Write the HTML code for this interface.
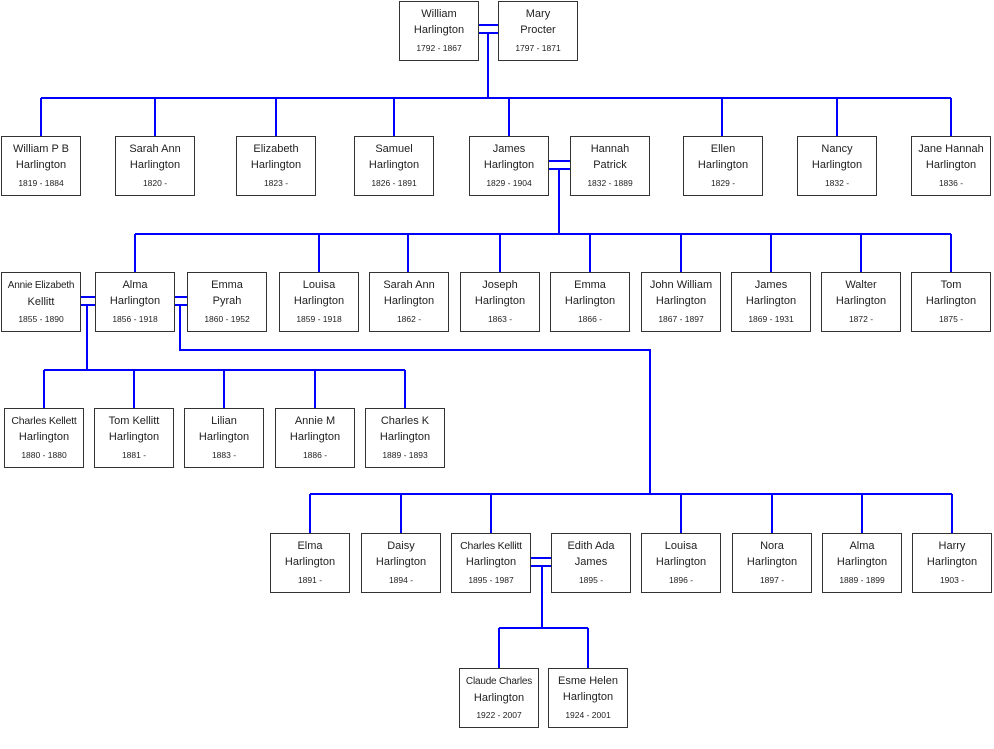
<!DOCTYPE html>
<html><head><meta charset="utf-8"><style>
body{margin:0;width:994px;height:749px;background:#fff;position:relative;overflow:hidden;font-family:"Liberation Sans",sans-serif;color:#222}
.b{position:absolute;width:78px;height:58px;border:1px solid #333;background:#fff;text-align:center}
.n{position:absolute;left:0;right:0;top:4px;font-size:11px;line-height:16px;white-space:nowrap}
.d{position:absolute;left:0;right:0;top:40px;font-size:8.5px;line-height:12px}
.s{font-size:10px;letter-spacing:-0.2px}
svg{position:absolute;left:0;top:0}
</style></head><body>
<svg width="994" height="749"><g stroke="#0000ff" stroke-width="2" fill="none">
<path d="M478 25H498M478 33H498M488 33V98M41 98H951M41 98V136M155 98V136M276 98V136M394 98V136M509 98V136M722 98V136M837 98V136M951 98V136"/>
<path d="M548 161H570M548 169H570M559 169V234M135 234H951M135 234V272M319 234V272M408 234V272M500 234V272M590 234V272M681 234V272M771 234V272M861 234V272M951 234V272"/>
<path d="M80 297H95M80 305H95M87 305V370M44 370H405M44 370V408M134 370V408M224 370V408M315 370V408M405 370V408"/>
<path d="M174 297H187M174 305H187M180 305V350H650V494M310 494H952M310 494V533M401 494V533M491 494V533M681 494V533M772 494V533M862 494V533M952 494V533"/>
<path d="M530 558H551M530 566H551M542 566V628M499 628H588M499 628V668M588 628V668"/>
</g></svg>
<div class="b" style="left:399px;top:1px"><div class="n">William<br>Harlington</div><div class="d">1792 - 1867</div></div>
<div class="b" style="left:498px;top:1px"><div class="n">Mary<br>Procter</div><div class="d">1797 - 1871</div></div>

<div class="b" style="left:1px;top:136px"><div class="n">William P B<br>Harlington</div><div class="d">1819 - 1884</div></div>
<div class="b" style="left:115px;top:136px"><div class="n">Sarah Ann<br>Harlington</div><div class="d">1820 -</div></div>
<div class="b" style="left:236px;top:136px"><div class="n">Elizabeth<br>Harlington</div><div class="d">1823 -</div></div>
<div class="b" style="left:354px;top:136px"><div class="n">Samuel<br>Harlington</div><div class="d">1826 - 1891</div></div>
<div class="b" style="left:469px;top:136px"><div class="n">James<br>Harlington</div><div class="d">1829 - 1904</div></div>
<div class="b" style="left:570px;top:136px"><div class="n">Hannah<br>Patrick</div><div class="d">1832 - 1889</div></div>
<div class="b" style="left:683px;top:136px"><div class="n">Ellen<br>Harlington</div><div class="d">1829 -</div></div>
<div class="b" style="left:797px;top:136px"><div class="n">Nancy<br>Harlington</div><div class="d">1832 -</div></div>
<div class="b" style="left:911px;top:136px"><div class="n">Jane Hannah<br>Harlington</div><div class="d">1836 -</div></div>

<div class="b" style="left:1px;top:272px"><div class="n"><span class="s">Annie Elizabeth</span><br>Kellitt</div><div class="d">1855 - 1890</div></div>
<div class="b" style="left:95px;top:272px"><div class="n">Alma<br>Harlington</div><div class="d">1856 - 1918</div></div>
<div class="b" style="left:187px;top:272px"><div class="n">Emma<br>Pyrah</div><div class="d">1860 - 1952</div></div>
<div class="b" style="left:279px;top:272px"><div class="n">Louisa<br>Harlington</div><div class="d">1859 - 1918</div></div>
<div class="b" style="left:369px;top:272px"><div class="n">Sarah Ann<br>Harlington</div><div class="d">1862 -</div></div>
<div class="b" style="left:460px;top:272px"><div class="n">Joseph<br>Harlington</div><div class="d">1863 -</div></div>
<div class="b" style="left:550px;top:272px"><div class="n">Emma<br>Harlington</div><div class="d">1866 -</div></div>
<div class="b" style="left:641px;top:272px"><div class="n">John William<br>Harlington</div><div class="d">1867 - 1897</div></div>
<div class="b" style="left:731px;top:272px"><div class="n">James<br>Harlington</div><div class="d">1869 - 1931</div></div>
<div class="b" style="left:821px;top:272px"><div class="n">Walter<br>Harlington</div><div class="d">1872 -</div></div>
<div class="b" style="left:911px;top:272px"><div class="n">Tom<br>Harlington</div><div class="d">1875 -</div></div>

<div class="b" style="left:4px;top:408px"><div class="n"><span class="s" style="font-size:10.5px">Charles Kellett</span><br>Harlington</div><div class="d">1880 - 1880</div></div>
<div class="b" style="left:94px;top:408px"><div class="n">Tom Kellitt<br>Harlington</div><div class="d">1881 -</div></div>
<div class="b" style="left:184px;top:408px"><div class="n">Lilian<br>Harlington</div><div class="d">1883 -</div></div>
<div class="b" style="left:275px;top:408px"><div class="n">Annie M<br>Harlington</div><div class="d">1886 -</div></div>
<div class="b" style="left:365px;top:408px"><div class="n">Charles K<br>Harlington</div><div class="d">1889 - 1893</div></div>

<div class="b" style="left:270px;top:533px"><div class="n">Elma<br>Harlington</div><div class="d">1891 -</div></div>
<div class="b" style="left:361px;top:533px"><div class="n">Daisy<br>Harlington</div><div class="d">1894 -</div></div>
<div class="b" style="left:451px;top:533px"><div class="n"><span class="s" style="font-size:10.5px">Charles Kellitt</span><br>Harlington</div><div class="d">1895 - 1987</div></div>
<div class="b" style="left:551px;top:533px"><div class="n">Edith Ada<br>James</div><div class="d">1895 -</div></div>
<div class="b" style="left:641px;top:533px"><div class="n">Louisa<br>Harlington</div><div class="d">1896 -</div></div>
<div class="b" style="left:732px;top:533px"><div class="n">Nora<br>Harlington</div><div class="d">1897 -</div></div>
<div class="b" style="left:822px;top:533px"><div class="n">Alma<br>Harlington</div><div class="d">1889 - 1899</div></div>
<div class="b" style="left:912px;top:533px"><div class="n">Harry<br>Harlington</div><div class="d">1903 -</div></div>

<div class="b" style="left:459px;top:668px"><div class="n"><span class="s">Claude Charles</span><br>Harlington</div><div class="d">1922 - 2007</div></div>
<div class="b" style="left:548px;top:668px"><div class="n">Esme Helen<br>Harlington</div><div class="d">1924 - 2001</div></div>
</body></html>
